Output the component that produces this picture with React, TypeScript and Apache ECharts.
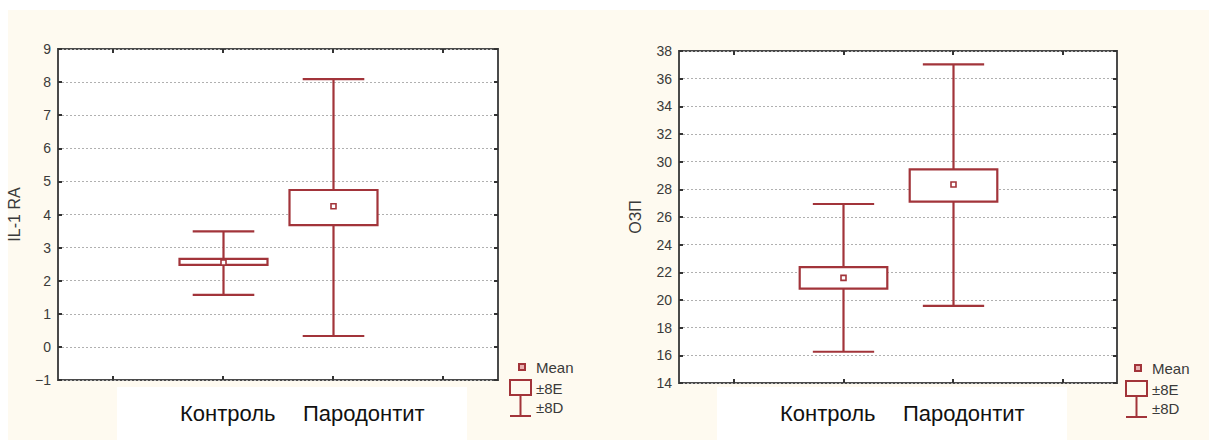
import React, { useEffect, useRef } from "react";
import * as echarts from "echarts";

// ---------- data ----------
const xSlots = [" ", "Контроль", "Пародонтит", "  "];
const groupLabels = ["Контроль", "Пародонтит"];
const groupSlot = [1, 2];

const il1Mean = [2.55, 4.25];
const il1SeLow = [2.48, 3.68];
const il1SeHigh = [2.66, 4.74];
const il1SdLow = [1.57, 0.33];
const il1SdHigh = [3.49, 8.09];

const ozpMean = [21.6, 28.35];
const ozpSeLow = [20.82, 27.11];
const ozpSeHigh = [22.37, 29.45];
const ozpSdLow = [16.26, 19.57];
const ozpSdHigh = [26.94, 37.04];

const il1Axis = { min: -1, max: 9, step: 1 };
const ozpAxis = { min: 14, max: 38, step: 2 };
const yNames = ["IL-1 RA", "ОЗП"];
const legendLabels = ["Mean", "±8E", "±8D"];

// ---------- styles ----------
const RED = "#a2343a";
const CREAM = "#fefaf0";
const BORDER = "#4a4a4a";
const TXT = "#3a3a3a";

const buildRows = (mean, seLo, seHi, sdLo, sdHi) =>
  groupSlot.map((s, i) => [s, mean[i], seLo[i], seHi[i], sdLo[i], sdHi[i]]);

const renderBox = (params, api) => {
  const i = api.value(0);
  const m = api.coord([i, api.value(1)]);
  const seLo = api.coord([i, api.value(2)])[1];
  const seHi = api.coord([i, api.value(3)])[1];
  const sdLo = api.coord([i, api.value(4)])[1];
  const sdHi = api.coord([i, api.value(5)])[1];
  const band = api.size([1, 0])[0];
  const cx = Math.round(m[0]) + 0.5;
  const bw = band * 0.8;
  const cw = band * 0.56;
  const st = { stroke: RED, lineWidth: 2.2, fill: null };
  return {
    type: "group",
    children: [
      { type: "line", shape: { x1: cx, y1: sdHi, x2: cx, y2: seHi }, style: st },
      { type: "line", shape: { x1: cx, y1: seLo, x2: cx, y2: sdLo }, style: st },
      { type: "line", shape: { x1: cx - cw / 2, y1: sdHi, x2: cx + cw / 2, y2: sdHi }, style: st },
      { type: "line", shape: { x1: cx - cw / 2, y1: sdLo, x2: cx + cw / 2, y2: sdLo }, style: st },
      {
        type: "rect",
        shape: { x: cx - bw / 2, y: seHi, width: bw, height: seLo - seHi },
        style: { stroke: RED, lineWidth: 2.2, fill: "#fff" },
      },
      {
        type: "rect",
        shape: { x: cx - 2.5, y: m[1] - 2.5, width: 5, height: 5 },
        style: { stroke: RED, lineWidth: 1.6, fill: "#fff" },
      },
    ],
  };
};

const makeAxesForGrid = (gi, ax, name) => {
  const xBase = {
    type: "category",
    gridIndex: gi,
    data: xSlots,
    boundaryGap: true,
    z: 3,
    axisLine: { show: false, onZero: false },
    axisLabel: { show: false },
    axisTick: { show: true, inside: true, alignWithLabel: true, length: 4, lineStyle: { color: "#333", width: 2 } },
    splitLine: { show: false },
  };
  const yBase = {
    type: "value",
    gridIndex: gi,
    min: ax.min,
    max: ax.max,
    interval: ax.step,
    z: 3,
    axisLine: { show: false, onZero: false },
    axisTick: { show: true, inside: true, length: 4, lineStyle: { color: "#333", width: 2 } },
  };
  return {
    x: [
      { ...xBase, position: "bottom" },
      { ...xBase, position: "top" },
    ],
    y: [
      {
        ...yBase,
        position: "left",
        name,
        nameLocation: "middle",
        nameGap: 36,
        nameTextStyle: { fontFamily: "Liberation Sans", fontSize: 16, color: TXT },
        axisLabel: {
          show: true,
          margin: 7,
          fontFamily: "Liberation Sans",
          fontSize: 14,
          color: TXT,
          formatter: (v) => (v < 0 ? "−" + Math.abs(v) : String(v)),
        },
        splitLine: { show: true, lineStyle: { type: [2, 2], color: "#b0b0b0", width: 1 } },
      },
      { ...yBase, position: "right", axisLabel: { show: false }, splitLine: { show: false } },
    ],
  };
};

const legendGraphics = (ox, oy) => {
  const font = "15px 'Liberation Sans'";
  return [
    { type: "rect", z: 10, shape: { x: ox + 8, y: oy - 3, width: 6, height: 6 }, style: { stroke: RED, lineWidth: 2, fill: "#e8b0b0" } },
    { type: "text", z: 10, style: { text: legendLabels[0], x: ox + 25, y: oy, font, fill: TXT, verticalAlign: "middle", align: "left" } },
    { type: "rect", z: 10, shape: { x: ox - 1, y: oy + 13, width: 21, height: 15 }, style: { stroke: RED, lineWidth: 2, fill: "none" } },
    { type: "line", z: 10, shape: { x1: ox + 9.5, y1: oy + 28, x2: ox + 9.5, y2: oy + 49 }, style: { stroke: RED, lineWidth: 2 } },
    { type: "line", z: 10, shape: { x1: ox - 1, y1: oy + 49, x2: ox + 20, y2: oy + 49 }, style: { stroke: RED, lineWidth: 2 } },
    { type: "text", z: 10, style: { text: legendLabels[1], x: ox + 25, y: oy + 21, font, fill: TXT, verticalAlign: "middle", align: "left" } },
    { type: "text", z: 10, style: { text: legendLabels[2], x: ox + 25, y: oy + 40, font, fill: TXT, verticalAlign: "middle", align: "left" } },
  ];
};

const labelGraphics = (ox) => {
  const font = "22px 'Liberation Sans'";
  return [
    { type: "rect", z: -5, shape: { x: ox + 117, y: 387, width: 350, height: 53 }, style: { fill: "#fff" } },
    { type: "text", z: 10, style: { text: groupLabels[0], x: ox + 180, y: 413, font, fill: "#111", verticalAlign: "middle", align: "left" } },
    { type: "text", z: 10, style: { text: groupLabels[1], x: ox + 303, y: 413, font, fill: "#111", verticalAlign: "middle", align: "left" } },
  ];
};

export default function App() {
  const ref = useRef<HTMLDivElement>(null);
  useEffect(() => {
    if (!ref.current) return;
    const chart = echarts.init(ref.current, null, { renderer: "svg" });
    const a0 = makeAxesForGrid(0, il1Axis, yNames[0]);
    const a1 = makeAxesForGrid(1, ozpAxis, yNames[1]);
    const option = {
      animation: false,
      grid: [
        { left: 58, top: 49, width: 440, height: 331, show: true, backgroundColor: "#fff", borderColor: BORDER, borderWidth: 2, z: 0 },
        { left: 679, top: 51, width: 438, height: 332, show: true, backgroundColor: "#fff", borderColor: BORDER, borderWidth: 2, z: 0 },
      ],
      xAxis: [...a0.x, ...a1.x],
      yAxis: [...a0.y, ...a1.y],
      graphic: [
        { type: "rect", z: -10, shape: { x: 8, y: 10, width: 1201, height: 430 }, style: { fill: CREAM } },
        ...labelGraphics(0),
        ...labelGraphics(600),
        ...legendGraphics(511, 367),
        ...legendGraphics(1127, 368),
      ],
      series: [
        {
          type: "custom",
          xAxisIndex: 0,
          yAxisIndex: 0,
          renderItem: renderBox,
          encode: { x: 0, y: [1, 2, 3, 4, 5] },
          data: buildRows(il1Mean, il1SeLow, il1SeHigh, il1SdLow, il1SdHigh),
          z: 5,
        },
        {
          type: "custom",
          xAxisIndex: 2,
          yAxisIndex: 2,
          renderItem: renderBox,
          encode: { x: 0, y: [1, 2, 3, 4, 5] },
          data: buildRows(ozpMean, ozpSeLow, ozpSeHigh, ozpSdLow, ozpSdHigh),
          z: 5,
        },
      ],
    };
    chart.setOption(option);
    return () => chart.dispose();
  }, []);
  return <div ref={ref} style={{ position: "absolute", left: 0, top: 0, width: 1209, height: 441 }} />;
}
